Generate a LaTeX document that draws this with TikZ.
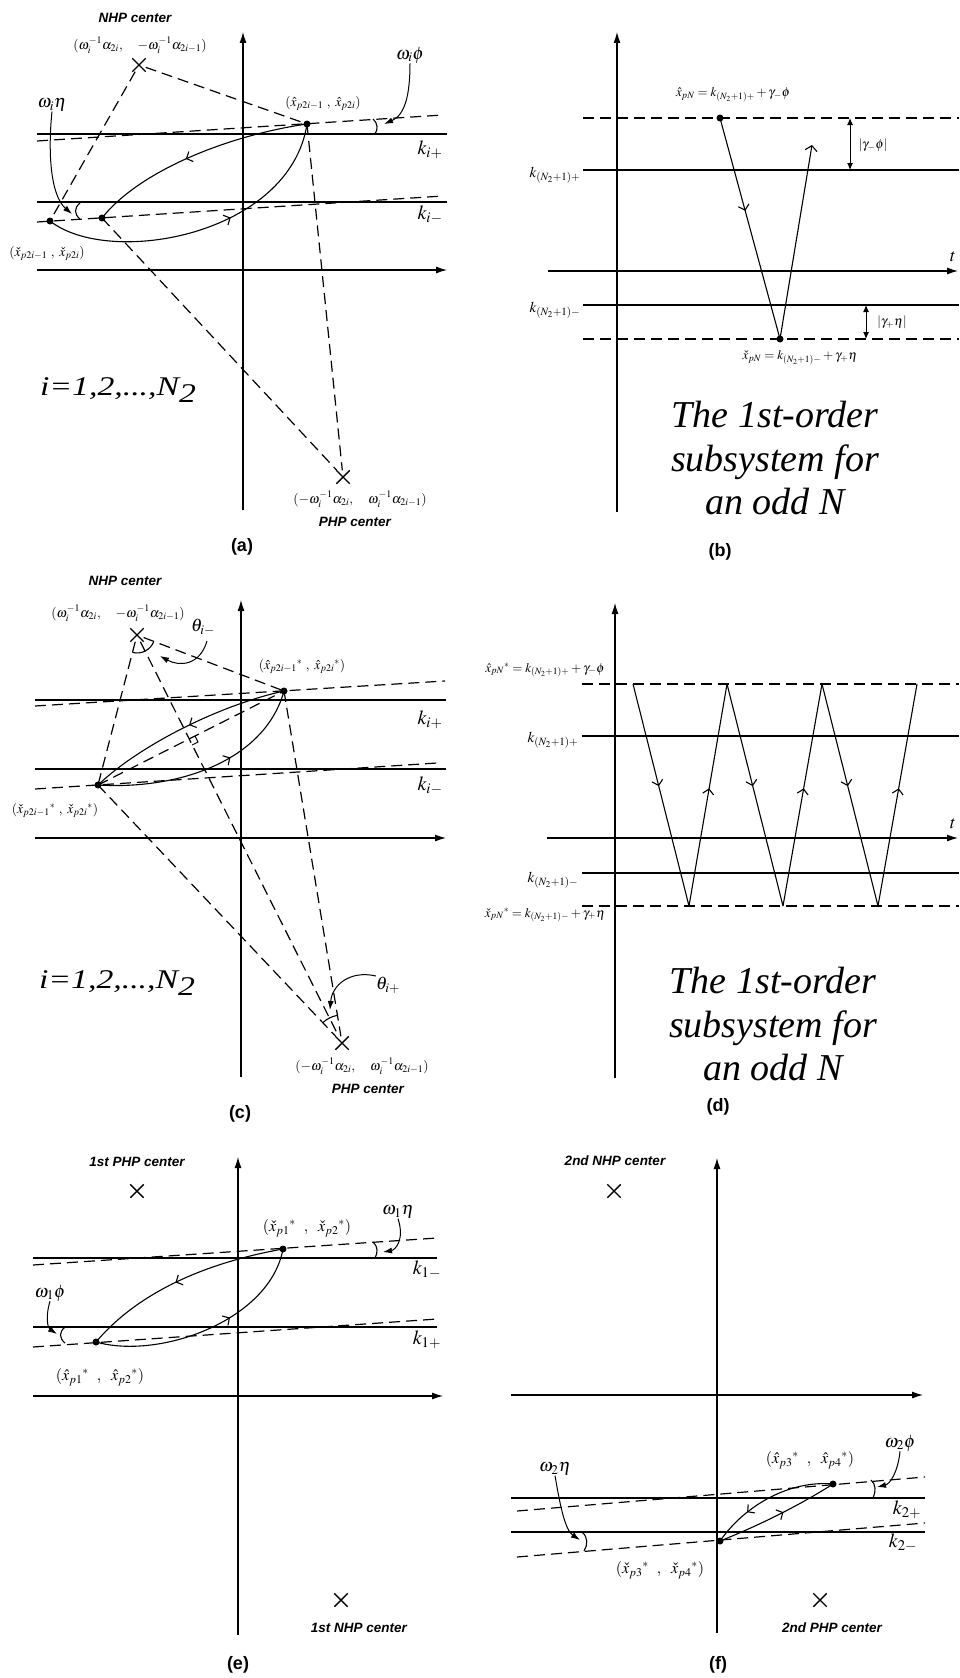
\RequirePackage{fix-cm}
\documentclass[tikz,border=0pt]{standalone}
\usepackage{mathptmx}
\usepackage{fontspec}
\setmainfont{Liberation Serif}
\setsansfont{Liberation Sans}
\usetikzlibrary{arrows.meta,decorations.markings,shapes.misc}
\tikzset{
  ax/.style={line width=1.1pt,-{Latex[length=11pt,width=7pt]}},
  kline/.style={line width=1.4pt},
  dline/.style={line width=1.2pt,dash pattern=on 11pt off 6pt},
  crv/.style={line width=1.1pt},
  dotpt/.style={circle,fill=black,inner sep=0pt,minimum size=7pt},
  xmark/.style={cross out,draw=black,line width=1.4pt,minimum size=12pt,inner sep=0pt},
  midarr/.style={postaction={decorate,decoration={markings,mark=at position #1 with {\arrow{Straight Barb[length=5pt,width=11pt]}}}}},
  warr/.style={line width=1pt,-{Latex[length=9pt,width=6pt]}},
  dbl/.style={line width=1pt,{Latex[length=7pt,width=6pt]}-{Latex[length=7pt,width=6pt]}},
  clab/.style={inner sep=0pt,font=\fontsize{13.5}{15}\selectfont},
  elab/.style={inner sep=0pt,font=\fontsize{16}{18}\selectfont},
  klab/.style={inner sep=0pt,font=\fontsize{20}{22}\selectfont},
  wlab/.style={inner sep=0pt,font=\fontsize{18}{20}\selectfont},
  eqlab/.style={inner sep=0pt,font=\fontsize{13}{15}\selectfont},
  nlab/.style={inner sep=0pt,font=\fontsize{15}{17}\selectfont},
  ctr/.style={inner sep=0pt,font=\sffamily\bfseries\itshape\fontsize{13.5}{15}\selectfont},
  figcap/.style={inner sep=0pt,font=\sffamily\bfseries\fontsize{18}{20}\selectfont},
  bigtxt/.style={inner sep=0pt,anchor=base,font=\itshape\fontsize{38}{43}\selectfont},
  ilab/.style={inner sep=0pt,xscale=1.25,font=\itshape\fontsize{27}{30}\selectfont},
}
\newcommand{\ilabtext}{i=1,2,...,N\raisebox{-0.28em}{2}}
\begin{document}
\begin{tikzpicture}[x=1pt,y=-1pt]
\fill[white] (0,0) rectangle (959,1678);
\useasboundingbox (0,0) rectangle (959,1678);

%================ (a) ================
\draw[ax] (243,510) -- (243,32);
\draw[ax] (37,270) -- (447,270);
\draw[kline] (37,134) -- (447,134);
\draw[kline] (37,202) -- (447,202);
\draw[dline] (37,141) -- (443,115);
\draw[dline] (37,222) -- (443,196);
\node[xmark] (aX1) at (139,65) {};
\node[xmark] (aX2) at (343,477) {};
\node[dotpt] (aH) at (307,124) {};
\node[dotpt] (aC) at (50,221) {};
\node[dotpt] (aP) at (102,218) {};
\draw[dline] (aX1) -- (aH.center);
\draw[dline] (aX1) -- (aC.center);
\draw[dline] (aP.center) -- (aX2);
\draw[dline] (aH.center) -- (aX2);
\draw[crv,midarr=0.55] (aH.center) .. controls (230,135) and (140,170) .. (aP.center);
\draw[crv,midarr=0.6] (aC.center) .. controls (110,268) and (290,235) .. (aH.center);
\draw[crv] (80,203) .. controls (74,208) and (74,214) .. (80,219);
\draw[crv] (373,119) .. controls (378,123) and (378,130) .. (375,134);
\node[wlab] (aeta) at (52,105) {$\omega_i\eta$};
\node[wlab] (aphi) at (410,55) {$\omega_i\phi$};
\draw[warr] (aeta.south) .. controls (48,150) and (50,195) .. (72,214);
\draw[warr] (aphi.south) .. controls (410,95) and (405,115) .. (384,124);
\node[ctr] (anhp) at (135,18) {NHP center};
\node[clab] (anhpc) at (140,45) {$(\omega_i^{-1}\alpha_{2i},\quad -\omega_i^{-1}\alpha_{2i-1})$};
\node[clab] (aHl) at (323,103) {$(\hat{x}_{p2i-1}\ ,\ \hat{x}_{p2i})$};
\node[clab] (aCl) at (47,253) {$(\check{x}_{p2i-1}\ ,\ \check{x}_{p2i})$};
\node[klab] (akp) at (430,150) {$k_{i+}$};
\node[klab] (akm) at (430,215) {$k_{i-}$};
\node[ilab] (ai) at (118,390) {\ilabtext};
\node[clab] (aphpc) at (360,499) {$(-\omega_i^{-1}\alpha_{2i},\quad \omega_i^{-1}\alpha_{2i-1})$};
\node[ctr] (aphp) at (355,522) {PHP center};
\node[figcap] (acap) at (242,547) {(a)};

%================ (b) ================
\draw[ax] (617,512) -- (617,32);
\draw[ax] (548,271) -- (958,271);
\node[wlab] (bt) at (953,257) {$t$};
\draw[dline] (583,118) -- (959,118);
\draw[kline] (583,170) -- (959,170);
\draw[kline] (583,305) -- (959,305);
\draw[dline] (583,339) -- (959,339);
\node[dotpt] (bH) at (720,118) {};
\node[dotpt] (bC) at (780,339) {};
\coordinate (bE) at (812,145);
\draw[crv,midarr=0.42] (bH.center) -- (bC.center);
\draw[crv,-{Straight Barb[length=5pt,width=12pt]}] (bC.center) -- (bE);
\draw[dbl] (850,118) -- (850,170);
\draw[dbl] (866,305) -- (866,339);
\node[eqlab] (bg1) at (873,145) {$|\gamma_{-}\phi|$};
\node[eqlab] (bg2) at (892,322) {$|\gamma_{+}\eta|$};
\node[nlab] (bkp) at (555,175) {$k_{(N_2+1)+}$};
\node[nlab] (bkm) at (555,310) {$k_{(N_2+1)-}$};
\node[eqlab] (bHl) at (733,95) {$\hat{x}_{pN}=k_{(N_2+1)+}+\gamma_{-}\phi$};
\node[eqlab] (bCl) at (800,358) {$\check{x}_{pN}=k_{(N_2+1)-}+\gamma_{+}\eta$};
\node[bigtxt] (bt1) at (775,427) {The 1st-order};
\node[bigtxt] (bt2) at (775,471) {subsystem for};
\node[bigtxt] (bt3) at (775,514) {an odd N};
\node[figcap] (bcap) at (720,552) {(b)};

%================ (c) ================
\draw[ax] (241,1077) -- (241,600);
\draw[ax] (35,838) -- (446,838);
\draw[kline] (35,700) -- (446,700);
\draw[kline] (35,769) -- (446,769);
\draw[dline] (35,706) -- (445,681);
\draw[dline] (35,789) -- (437,763);
\node[xmark] (cX1) at (137,635) {};
\node[xmark] (cX2) at (342,1043) {};
\node[dotpt] (cH) at (284,691) {};
\node[dotpt] (cC) at (98,785) {};
\draw[dline] (cX1) -- (cH.center);
\draw[dline] (cX1) -- (cC.center);
\draw[dline] (cX1) -- (cX2);
\draw[dline] (cC.center) -- (cX2);
\draw[dline] (cH.center) -- (cX2);
\draw[dline] (cC.center) -- (cH.center);
\draw[line width=0.9pt] (195,736) -- (198,742) -- (192,745);
\draw[crv] (cX1.center) ++(21:18) arc[start angle=21,end angle=105,radius=18];
\draw[crv] (cX2.center) ++(227:28) arc[start angle=227,end angle=261,radius=28];
\draw[crv,midarr=0.48] (cH.center) .. controls (220,705) and (140,745) .. (cC.center);
\draw[crv,midarr=0.61] (cC.center) .. controls (180,790) and (265,760) .. (cH.center);
\node[wlab] (cthm) at (203,627) {$\theta_{i-}$};
\node[wlab] (cthp) at (388,985) {$\theta_{i+}$};
\draw[warr] (207,641) .. controls (200,665) and (180,667) .. (160,656);
\draw[warr] (376,976) .. controls (350,970) and (332,985) .. (330,1010);
\node[ctr] (cnhp) at (125,581) {NHP center};
\node[clab] (cnhpc) at (118,613) {$(\omega_i^{-1}\alpha_{2i},\quad -\omega_i^{-1}\alpha_{2i-1})$};
\node[clab] (cHl) at (302,666) {$(\hat{x}_{p2i-1}{}^{*}\ ,\ \hat{x}_{p2i}{}^{*})$};
\node[clab] (cCl) at (55,810) {$(\check{x}_{p2i-1}{}^{*}\ ,\ \check{x}_{p2i}{}^{*})$};
\node[klab] (ckp) at (430,720) {$k_{i+}$};
\node[klab] (ckm) at (430,786) {$k_{i-}$};
\node[ilab] (ci) at (117,983) {\ilabtext};
\node[clab] (cphpc) at (362,1066) {$(-\omega_i^{-1}\alpha_{2i},\quad \omega_i^{-1}\alpha_{2i-1})$};
\node[ctr] (cphp) at (368,1089) {PHP center};
\node[figcap] (ccap) at (240,1114) {(c)};

%================ (d) ================
\draw[ax] (615,1078) -- (615,603);
\draw[ax] (547,838) -- (958,838);
\node[wlab] (dt) at (953,824) {$t$};
\draw[dline] (582,684) -- (959,684);
\draw[kline] (582,736) -- (959,736);
\draw[kline] (582,873) -- (959,873);
\draw[dline] (582,906) -- (959,906);
\coordinate (dT1) at (633,684);
\coordinate (dB1) at (689,906);
\coordinate (dT2) at (727,684);
\coordinate (dB2) at (783,906);
\coordinate (dT3) at (822,684);
\coordinate (dB3) at (878,906);
\coordinate (dT4) at (917,684);
\draw[crv,midarr=0.46] (dT1) -- (dB1);
\draw[crv,midarr=0.53] (dB1) -- (dT2);
\draw[crv,midarr=0.46] (dT2) -- (dB2);
\draw[crv,midarr=0.53] (dB2) -- (dT3);
\draw[crv,midarr=0.46] (dT3) -- (dB3);
\draw[crv,midarr=0.53] (dB3) -- (dT4);
\node[eqlab] (dHl) at (545,670) {$\hat{x}_{pN}{}^{*}=k_{(N_2+1)+}+\gamma_{-}\phi$};
\node[nlab] (dkp) at (553,740) {$k_{(N_2+1)+}$};
\node[nlab] (dkm) at (553,880) {$k_{(N_2+1)-}$};
\node[eqlab] (dCl) at (545,915) {$\check{x}_{pN}{}^{*}=k_{(N_2+1)-}+\gamma_{+}\eta$};
\node[bigtxt] (dt1) at (773,993) {The 1st-order};
\node[bigtxt] (dt2) at (773,1037) {subsystem for};
\node[bigtxt] (dt3) at (773,1080) {an odd N};
\node[figcap] (dcap) at (718,1107) {(d)};

%================ (e) ================
\draw[ax] (238,1635) -- (238,1157);
\draw[ax] (33,1396) -- (443,1396);
\draw[kline] (33,1258) -- (437,1258);
\draw[kline] (33,1327) -- (437,1327);
\draw[dline] (33,1265) -- (437,1238);
\draw[dline] (33,1347) -- (437,1319);
\node[xmark] (eX1) at (137,1191) {};
\node[xmark] (eX2) at (341,1600) {};
\node[dotpt] (eC) at (283,1249) {};
\node[dotpt] (eH) at (96,1342) {};
\draw[crv,midarr=0.53] (eC.center) .. controls (210,1262) and (140,1290) .. (eH.center);
\draw[crv,midarr=0.61] (eH.center) .. controls (160,1360) and (270,1320) .. (eC.center);
\draw[crv] (373,1242) .. controls (378,1246) and (378,1253) .. (375,1258);
\draw[crv] (65,1327) .. controls (59,1332) and (59,1338) .. (65,1343);
\node[wlab] (eeta) at (398,1212) {$\omega_1\eta$};
\node[wlab] (ephi) at (50,1293) {$\omega_1\phi$};
\draw[warr] (eeta.south) .. controls (405,1240) and (395,1250) .. (383,1252);
\draw[warr] (ephi.south) .. controls (45,1318) and (48,1328) .. (57,1334);
\node[ctr] (ephp) at (137,1162) {1st PHP center};
\node[ctr] (enhp) at (359,1628) {1st NHP center};
\node[elab] (eCl) at (307,1228) {$(\check{x}_{p1}{}^{*}\ \ ,\ \ \check{x}_{p2}{}^{*})$};
\node[elab] (eHl) at (100,1377) {$(\hat{x}_{p1}{}^{*}\ \ ,\ \ \hat{x}_{p2}{}^{*})$};
\node[klab] (ekm) at (427,1270) {$k_{1-}$};
\node[klab] (ekp) at (427,1340) {$k_{1+}$};
\node[figcap] (ecap) at (238,1665) {(e)};

%================ (f) ================
\draw[ax] (717,1633) -- (717,1158);
\draw[ax] (511,1395) -- (923,1395);
\draw[kline] (511,1498) -- (925,1498);
\draw[kline] (511,1532) -- (925,1532);
\draw[dline] (517,1511) -- (925,1477);
\draw[dline] (517,1557) -- (925,1523);
\node[xmark] (fX1) at (614,1191) {};
\node[xmark] (fX2) at (820,1600) {};
\node[dotpt] (fH) at (833,1484) {};
\node[dotpt] (fC) at (720,1541) {};
\draw[crv,midarr=0.7] (fH.center) .. controls (790,1480) and (745,1505) .. (fC.center);
\draw[crv,midarr=0.55] (fC.center) .. controls (760,1525) and (800,1505) .. (fH.center);
\draw[crv] (871,1480) .. controls (876,1484) and (876,1492) .. (873,1498);
\draw[crv] (582,1532) .. controls (588,1537) and (588,1545) .. (584,1551);
\node[wlab] (fphi) at (900,1443) {$\omega_2\phi$};
\node[wlab] (feta) at (555,1469) {$\omega_2\eta$};
\draw[warr] (fphi.south) .. controls (898,1472) and (890,1484) .. (877,1487);
\draw[warr] (feta.south) .. controls (560,1505) and (565,1530) .. (580,1540);
\node[ctr] (fnhp) at (615,1161) {2nd NHP center};
\node[ctr] (fphp) at (832,1628) {2nd PHP center};
\node[elab] (fHl) at (810,1460) {$(\hat{x}_{p3}{}^{*}\ \ ,\ \ \hat{x}_{p4}{}^{*})$};
\node[elab] (fCl) at (660,1570) {$(\check{x}_{p3}{}^{*}\ \ ,\ \ \check{x}_{p4}{}^{*})$};
\node[klab] (fkp) at (907,1510) {$k_{2+}$};
\node[klab] (fkm) at (903,1543) {$k_{2-}$};
\node[figcap] (fcap) at (718,1665) {(f)};
\end{tikzpicture}
\end{document}
